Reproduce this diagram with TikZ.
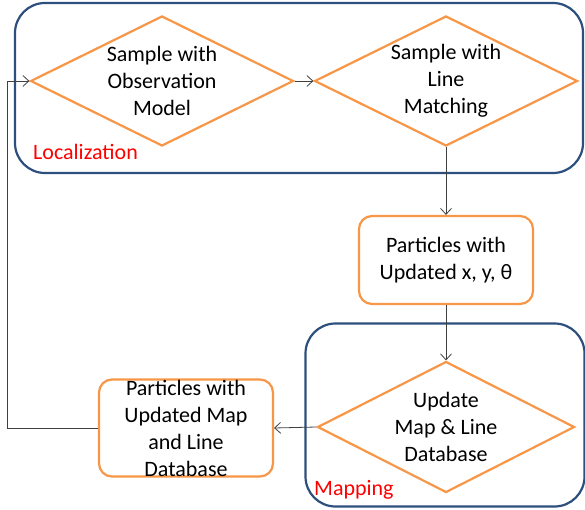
\documentclass[tikz,border=0pt]{standalone}
\usepackage{fontspec}
\setmainfont{Carlito}
\usetikzlibrary{shapes.geometric, arrows.meta}

\definecolor{boxorange}{RGB}{247,150,70}
\definecolor{groupblue}{RGB}{44,79,125}
\definecolor{linkgray}{RGB}{64,64,64}

\tikzset{
  txt/.style={font=\fontsize{22}{27}\selectfont, align=center},
  decide/.style={txt, diamond, shape aspect=2, draw=boxorange, line width=2.2pt, inner sep=-4pt,
    minimum width=263pt, minimum height=130pt},
  result/.style={txt, rectangle, rounded corners=13pt, draw=boxorange, line width=2.2pt,
    inner sep=0pt, minimum width=174pt},
  group/.style={rectangle, rounded corners=30pt, draw=groupblue, line width=2.2pt},
  grouplabel/.style={font=\fontsize{22}{27}\selectfont, text=red, inner sep=0pt, anchor=west},
  link/.style={draw=linkgray, line width=0.8pt, -{Straight Barb[length=6pt,width=11pt]}}
}

\begin{document}
\begin{tikzpicture}[x=1pt, y=-1pt]
\useasboundingbox (0,0) rectangle (585,510);

% the two groups
\node[group, minimum width=568pt, minimum height=170pt] (loc) at (299,88) {};
\node[group, minimum width=279pt, minimum height=183pt] (map) at (445,415) {};
\node[grouplabel] (loclabel) at (33,152) {Localization};
\node[grouplabel] (maplabel) at (314,490) {Mapping};

% steps
\node[decide] (obsv) at (162,81) {Sample with\\Observation\\Model};
\node[decide] (match) at (446,81) {Sample with\\Line\\Matching};
\node[result, minimum height=88pt] (pose) at (446,260) {Particles with\\Updated x, y, θ};
\node[decide, minimum width=257pt, minimum height=131pt] (upd) at (446,427) {Update\\Map \& Line\\Database};
\node[result, minimum height=97pt] (partmap) at (186,428) {Particles with\\Updated Map\\and Line\\Database};

% connectors
\draw[link] (obsv.east) -- (match.west);
\draw[link] (match.south) -- (pose.north);
\draw[link] (pose.south) -- (upd.north);
\draw[link] (upd.west) -- (partmap.east);
\draw[link] (partmap.west) -- ++(-91,0) |- (obsv.west);
\end{tikzpicture}
\end{document}
